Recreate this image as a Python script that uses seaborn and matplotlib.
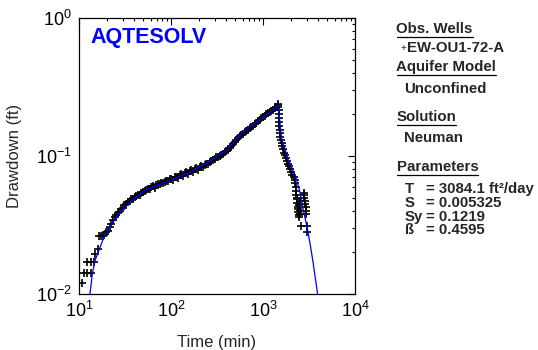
import numpy as np
import pandas as pd
import seaborn as sns
import matplotlib
matplotlib.use("Agg")
import matplotlib.pyplot as plt
from matplotlib.lines import Line2D
from matplotlib.ticker import LogLocator, LogFormatterMathtext, NullFormatter

# --------------------------
# data
# --------------------------
obs_time = [10.7, 11.3, 12.3, 13.4, 12.3, 13.4, 14.6, 14.9, 16.2,
            16.5, 17.4, 18.2, 18.8, 19.8, 20.5, 21.6, 22.3, 23.4, 24.6,
            25.4, 26.3, 27.5, 28.8, 30.0, 31.2, 32.6, 34.0, 35.5, 37.0,
            38.6, 40.3, 42.0, 43.8, 45.7, 47.6, 49.6, 51.7, 53.9, 56.2,
            58.6, 61.1, 63.7, 66.4, 69.2, 72.2, 75.3, 78.5, 81.8, 85.3,
            89.0, 92.8, 96.8, 101, 105, 110, 114, 119, 124, 130, 135,
            141, 147, 153, 160, 167, 174, 181, 189, 197, 205, 214, 223,
            233, 243, 253, 264, 275, 287, 299, 312, 325, 339, 353, 368,
            384, 400, 417, 435, 453, 472, 492, 513, 535, 558, 582, 607,
            633, 660, 688, 717, 748, 780, 813, 848, 884, 922, 961, 1002,
            1045, 1090, 1136, 1185, 1235, 1288, 1343, 1400, 1440, 1465,
            1472, 1478, 1484, 1490, 1497, 1505, 1515, 1528, 1545, 1565,
            1590, 1620, 1655, 1690, 1730, 1775, 1820, 1870, 1920, 1975,
            2030, 2090, 2150, 2200, 2240, 2260, 2280, 2300, 2320, 2340,
            2360, 2380, 2400, 2420, 2440, 2460, 2480, 2500, 2520, 2550,
            2580, 2760, 2790, 2820, 2850, 2880, 2910, 2940, 2970, 2980,
            2990]
obs_drawdown = [0.0120, 0.0143, 0.0143, 0.0143, 0.0170, 0.0170, 0.0170, 0.0195, 0.0212,
                0.0263, 0.0263, 0.0262, 0.0266, 0.0281, 0.0284, 0.0308, 0.0322, 0.0345, 0.0360,
                0.0372, 0.0385, 0.0393, 0.0412, 0.0418, 0.0438, 0.0446, 0.0462, 0.0475, 0.0484,
                0.0490, 0.0508, 0.0512, 0.0525, 0.0519, 0.0540, 0.0548, 0.0556, 0.0571, 0.0580,
                0.0576, 0.0598, 0.0604, 0.0591, 0.0612, 0.0627, 0.0622, 0.0640, 0.0636, 0.0652,
                0.0660, 0.0655, 0.0678, 0.0684, 0.0672, 0.0702, 0.0710, 0.0695, 0.0728, 0.0735, 0.0722,
                0.0752, 0.0760, 0.0745, 0.0780, 0.0790, 0.0772, 0.0805, 0.0812, 0.0798, 0.0830, 0.0846, 0.0835,
                0.0862, 0.0878, 0.0870, 0.0905, 0.0918, 0.0930, 0.0952, 0.0978, 0.0990, 0.1005, 0.1022, 0.1040,
                0.1062, 0.1085, 0.1110, 0.1140, 0.1175, 0.1220, 0.1270, 0.1310, 0.1350, 0.1385, 0.1420, 0.1455,
                0.1490, 0.1520, 0.1555, 0.1590, 0.1625, 0.1660, 0.1700, 0.1745, 0.1790, 0.1835, 0.1880, 0.1920,
                0.1960, 0.2000, 0.2040, 0.2080, 0.2120, 0.2170, 0.2210, 0.2260, 0.2330, 0.2400,
                0.2280, 0.2150, 0.2000, 0.1880, 0.1760, 0.1650, 0.1550, 0.1460, 0.1380, 0.1310,
                0.1250, 0.1190, 0.1120, 0.1060, 0.1010, 0.0965, 0.0925, 0.0880, 0.0845, 0.0810,
                0.0770, 0.0730, 0.0700, 0.0670, 0.0640, 0.0600, 0.0560, 0.0520, 0.0490, 0.0460,
                0.0500, 0.0430, 0.0410, 0.0390, 0.0375, 0.0360, 0.0440, 0.0470, 0.0400, 0.0380,
                0.0310, 0.0540, 0.0520, 0.0500, 0.0470, 0.0450, 0.0430, 0.0400, 0.0380, 0.0310,
                0.0280]

# Neuman type curve (solution)
model_time = [12.9, 13.5, 14.0, 15.0, 16.5, 18.7, 20.5, 23.0, 28.0, 34.9, 42.0,
              53.0, 65.0, 80.5, 100, 122, 160, 206, 250, 318, 403, 500, 611,
              800, 1096, 1300, 1468, 1490, 1540, 1597, 1750, 1884, 2100, 2323,
              2500, 2743, 3000, 3243, 3500, 3890, 3950]
model_drawdown = [0.0092, 0.0115, 0.0142, 0.0176, 0.0208, 0.0260, 0.0290, 0.0325, 0.0390, 0.0454, 0.0505,
                  0.0567, 0.0600, 0.0634, 0.0670, 0.0708, 0.0760, 0.0837, 0.0900, 0.1000, 0.1100, 0.1300, 0.1500,
                  0.1720, 0.1980, 0.2180, 0.2340, 0.2100, 0.1650, 0.1310, 0.1100, 0.0935, 0.0800, 0.0670,
                  0.0560, 0.0406, 0.0310, 0.0233, 0.0170, 0.0104, 0.0095]

panel_headers = ["Obs. Wells", "Aquifer Model", "Solution", "Parameters"]
well_name = "EW-OU1-72-A"
aquifer_model = "Unconfined"
solution_name = "Neuman"
param_names = ["T", "S", "Sy", "ß"]
param_values = ["= 3084.1 ft²/day", "= 0.005325", "= 0.1219", "= 0.4595"]

df_obs = pd.DataFrame({"time": obs_time, "drawdown": obs_drawdown})
df_model = pd.DataFrame({"time": model_time, "drawdown": model_drawdown})

sns.set_style("white")
plt.rcParams['font.family'] = ['Liberation Sans', 'DejaVu Sans']
plt.rcParams['mathtext.fontset'] = 'custom'
plt.rcParams['mathtext.rm'] = 'Liberation Sans'
plt.rcParams['mathtext.it'] = 'Liberation Sans:italic'
plt.rcParams['mathtext.bf'] = 'Liberation Sans:bold'

fig = plt.figure(figsize=(5.38, 3.5), dpi=100)
ax = fig.add_axes([79/538, 1-294/350, (355-79)/538, (294-18)/350])

sns.scatterplot(data=df_obs, x="time", y="drawdown", marker="+", color="black",
                s=32, linewidth=1.2, ax=ax, zorder=2)
sns.lineplot(data=df_model, x="time", y="drawdown", color="#0000ff", lw=0.9,
             estimator=None, ax=ax, zorder=3)

ax.set_xscale("log")
ax.set_yscale("log")
ax.set_xlim(10, 1e4)
ax.set_ylim(1e-2, 1)

for a in (ax.xaxis, ax.yaxis):
    a.set_major_locator(LogLocator(base=10))
    a.set_minor_locator(LogLocator(base=10, subs=np.arange(2, 10)))
    a.set_major_formatter(LogFormatterMathtext())
    a.set_minor_formatter(NullFormatter())

ax.tick_params(which="both", direction="in", top=True, right=True, colors="black",
               labelsize=13)
ax.tick_params(which="major", length=5, width=0.8, pad=5)
ax.tick_params(which="minor", length=2.5, width=0.8)
for sp in ax.spines.values():
    sp.set_color("black")
    sp.set_linewidth(0.9)

ax.set_xlabel("Time (min)", fontsize=12, labelpad=10)
ax.set_ylabel("Drawdown (ft)", fontsize=12, labelpad=10)

# logo
ax.text(0.04, 0.93, "AQTESOLV", transform=ax.transAxes, color="#0000ff",
        fontsize=15.5, fontweight="bold", ha="left", va="center")

# --------------------------
# right side panel (baselines in pixels from top)
# --------------------------
def fx(px):
    return px / 538

def fy(py):
    return 1 - py / 350

fs = 10.8
txt = dict(fontsize=fs, fontweight="bold", ha="left", va="baseline")

header_base = [33.3, 71, 121, 171]
heads = [fig.text(fx(396.5), fy(y), h, **txt) for h, y in zip(panel_headers, header_base)]

fig.text(fx(400.5), fy(51.2), "+", fontsize=7, ha="left", va="baseline")
fig.text(fx(406.5), fy(51.7), well_name, **txt)
fig.text(fx(404), fy(92.7), aquifer_model, **txt)
fig.text(fx(404), fy(141.7), solution_name, **txt)

param_base = [193.3, 207.3, 220.7, 234.5]
for name, val, y in zip(param_names, param_values, param_base):
    fig.text(fx(405), fy(y), name, **txt)
    fig.text(fx(426), fy(y), val, **txt)

fig.canvas.draw()
renderer = fig.canvas.get_renderer()
for t, y in zip(heads, header_base):
    bb = t.get_window_extent(renderer)
    fig.add_artist(Line2D([bb.x0 / 538, bb.x1 / 538], [fy(y + 4), fy(y + 4)],
                          color="black", lw=0.9, transform=fig.transFigure))

fig.savefig("out.png", dpi=100, facecolor="white")
